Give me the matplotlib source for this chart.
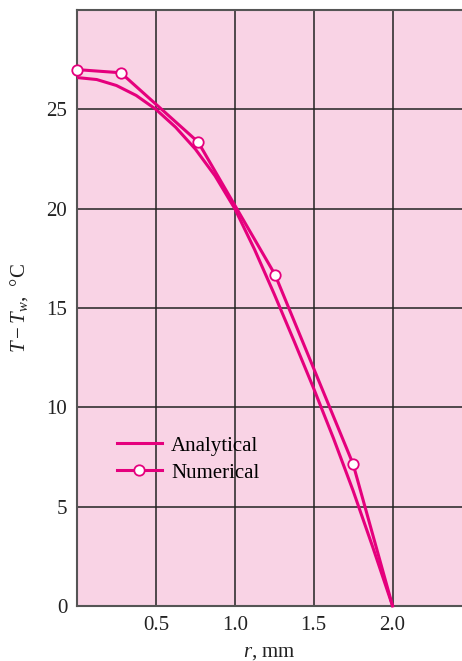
import numpy as np
import matplotlib
matplotlib.use("Agg")
import matplotlib.pyplot as plt
from matplotlib.lines import Line2D

# analytical curve
r_ana = [0, 0.125, 0.25, 0.375, 0.5, 0.625, 0.75, 0.875, 1.0, 1.125, 1.25,
         1.375, 1.5, 1.625, 1.75, 1.875, 2.0]
T_ana = [26.6, 26.5, 26.2, 25.7, 25.0, 24.1, 23.0, 21.65, 20.0, 17.95, 15.7,
         13.35, 10.95, 8.45, 5.8, 2.95, 0.0]

# numerical solution (last point on the wall has no marker)
r_num = [0, 0.278, 0.768, 1.255, 1.75, 2.0]
T_num = [27.0, 26.84, 23.35, 16.68, 7.14, 0.0]

xticks = [0.5, 1.0, 1.5, 2.0]
yticks = [0, 5, 10, 15, 20, 25]

magenta = "#E5007D"
pink = "#F9D3E5"
fs = 15

plt.rcParams["font.family"] = ["Liberation Serif", "DejaVu Serif"]
plt.rcParams["mathtext.fontset"] = "custom"
plt.rcParams["mathtext.rm"] = "Liberation Serif"
plt.rcParams["mathtext.it"] = "Liberation Serif:italic"

fig = plt.figure(figsize=(4.62, 6.61), dpi=100)
ax = fig.add_axes([77/462, 1 - 606/661, 1 - 77/462, (606 - 10)/661])
ax.set_facecolor(pink)

ax.plot(r_ana, T_ana, color=magenta, lw=2.2, zorder=3)
ax.plot(r_num, T_num, color=magenta, lw=2.2, zorder=3, marker="o", ms=7.5,
        mfc="white", mec=magenta, mew=1.3, markevery=list(range(5)),
        clip_on=False)

ax.set_xlim(0, 2.44)
ax.set_ylim(0, 30)
ax.set_xticks(xticks)
ax.set_xticklabels(["0.5", "1.0", "1.5", "2.0"])
ax.set_yticks(yticks)
ax.grid(True, color="#222222", lw=1.1)
ax.set_axisbelow(True)
ax.tick_params(length=0, labelsize=fs, pad=7, colors="#222222")

for s in ["left", "bottom", "top"]:
    ax.spines[s].set_color("#555555")
    ax.spines[s].set_linewidth(1.5)
ax.spines["right"].set_visible(False)

ax.set_xlabel("$r$, mm", fontsize=fs, labelpad=6, color="#222222")
ax.set_ylabel("$T - T_w$,  \u00b0C", fontsize=fs, labelpad=12, color="#222222")

handles = [Line2D([], [], color=magenta, lw=2.2),
           Line2D([], [], color=magenta, lw=2.2, marker="o", ms=7.5,
                  mfc="white", mec=magenta, mew=1.3)]
ax.legend(handles, ["Analytical", "Numerical"], loc="upper left",
          bbox_to_anchor=(0.104, 0.285), frameon=False, fontsize=fs,
          handlelength=2.15, handletextpad=0.45, labelspacing=0.35,
          borderpad=0, borderaxespad=0)

fig.savefig("out.png", dpi=100)
